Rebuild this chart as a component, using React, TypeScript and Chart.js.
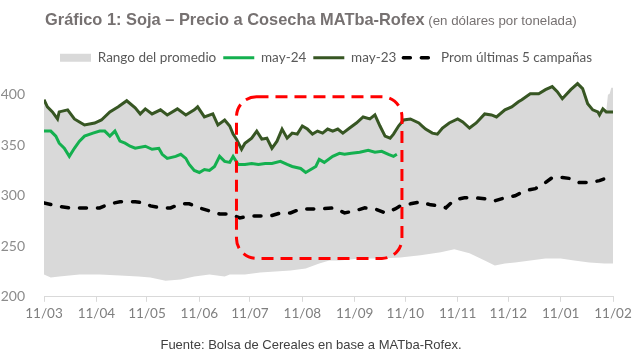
import React, { useEffect, useRef } from 'react';
import { Chart, registerables } from 'chart.js';

Chart.register(...registerables);

// X axis: days since 11/03, monthly ticks
const monthTickDays = [0, 31, 61, 92, 122, 153, 184, 214, 245, 275, 306, 337];
const monthTickLabels = ['11/03', '11/04', '11/05', '11/06', '11/07', '11/08', '11/09', '11/10', '11/11', '11/12', '11/01', '11/02'];
const yTickValues = [200, 250, 300, 350, 400];

// may-23 (dark green)
const may23Days = [0, 2, 5, 8, 9, 14, 18, 21, 24, 30, 34, 39, 44, 49, 54, 57, 60, 64, 69, 73, 79, 84, 89, 91, 95, 100, 103, 107, 110, 112, 114, 117, 119, 123, 126, 129, 132, 135, 138, 141, 144, 147, 150, 153, 156, 159, 162, 165, 168, 171, 174, 177, 181, 185, 189, 193, 196, 199, 202, 205, 207, 210, 213, 217, 222, 224, 226, 230, 233, 236, 240, 245, 248, 252, 256, 261, 265, 268, 273, 277, 281, 283, 288, 293, 297, 301, 304, 307, 312, 316, 319, 322, 325, 328, 329, 331, 333, 337];
const may23Values = [395, 388, 383, 376, 383, 385, 376, 373, 370, 372, 375, 383, 388, 394, 387, 381, 386, 381, 385, 380, 386, 380, 385, 388, 378, 381, 370, 375, 369, 361, 356, 346, 352, 357, 364, 356, 357, 347, 354, 366, 357, 362, 361, 369, 366, 361, 364, 362, 366, 364, 366, 362, 367, 372, 378, 376, 380, 369, 359, 357, 361, 369, 375, 376, 372, 369, 366, 362, 361, 367, 372, 376, 373, 367, 372, 381, 380, 378, 385, 388, 393, 395, 401, 401, 405, 408, 403, 396, 405, 411, 406, 391, 385, 383, 380, 386, 383, 383];

// may-24 (green)
const may24Days = [0, 4, 7, 9, 12, 15, 18, 21, 24, 29, 33, 36, 39, 42, 45, 48, 51, 54, 60, 64, 68, 70, 73, 78, 81, 84, 86, 89, 92, 95, 98, 101, 104, 107, 110, 112, 115, 119, 123, 127, 131, 135, 140, 144, 147, 152, 155, 158, 161, 163, 166, 171, 175, 178, 182, 187, 192, 196, 200, 204, 207, 209];
const may24Values = [364, 364, 359, 352, 347, 339, 347, 354, 359, 362, 364, 364, 359, 364, 354, 352, 349, 347, 349, 346, 347, 341, 337, 339, 341, 337, 331, 325, 323, 326, 325, 329, 339, 334, 333, 339, 331, 331, 332, 331, 332, 332, 334, 331, 329, 327, 323, 326, 329, 336, 333, 339, 342, 341, 342, 343, 345, 343, 344, 341, 339, 341];

// Promedio últimas 5 campañas (black dashed)
const promDays = [0, 7, 15, 24, 33, 39, 45, 54, 60, 63, 69, 75, 81, 86, 92, 98, 104, 110, 116, 122, 128, 134, 140, 146, 152, 158, 163, 172, 178, 184, 190, 196, 202, 208, 211, 217, 223, 229, 235, 238, 243, 249, 255, 261, 267, 273, 279, 285, 291, 297, 301, 307, 312, 317, 323, 329, 334];
const promValues = [293, 290, 288, 288, 288, 292, 294, 294, 293, 290, 288, 288, 292, 292, 288, 285, 282, 282, 278, 280, 280, 280, 283, 283, 287, 287, 287, 288, 283, 285, 288, 287, 283, 287, 290, 292, 294, 291, 290, 288, 296, 298, 298, 297, 295, 298, 300, 305, 307, 313, 318, 318, 317, 313, 313, 315, 318];

// Rango del promedio (gray band): upper and lower limits
const rangeHighDays = [0, 2, 5, 8, 9, 14, 18, 21, 24, 30, 34, 39, 44, 49, 54, 57, 60, 64, 69, 73, 79, 84, 89, 91, 95, 100, 103, 107, 110, 112, 114, 117, 119, 123, 126, 129, 132, 135, 138, 141, 144, 147, 150, 153, 156, 159, 162, 165, 168, 171, 174, 177, 181, 185, 189, 193, 196, 199, 202, 205, 207, 210, 213, 217, 222, 224, 226, 230, 233, 236, 240, 245, 248, 252, 256, 261, 265, 268, 273, 277, 281, 283, 288, 293, 297, 301, 304, 307, 312, 316, 319, 322, 325, 328, 329, 331, 333, 334, 335, 336, 337];
const rangeHighValues = [396, 389, 384, 377, 384, 386, 377, 374, 371, 373, 376, 384, 389, 395, 388, 382, 387, 382, 386, 381, 387, 381, 386, 389, 379, 382, 371, 376, 370, 362, 357, 347, 353, 358, 365, 357, 358, 348, 355, 367, 358, 363, 362, 370, 367, 362, 365, 363, 367, 365, 367, 363, 368, 373, 379, 377, 381, 370, 360, 358, 362, 370, 376, 377, 373, 370, 367, 363, 362, 368, 373, 377, 374, 368, 373, 382, 381, 379, 386, 389, 394, 396, 402, 402, 406, 409, 404, 397, 406, 412, 407, 392, 386, 384, 381, 387, 384, 400, 401, 407, 407];
const rangeLowDays = [0, 4, 9, 21, 33, 45, 56, 63, 72, 81, 89, 98, 107, 110, 119, 128, 137, 146, 155, 163, 169, 175, 187, 199, 211, 223, 235, 243, 252, 261, 267, 273, 279, 288, 297, 306, 314, 323, 332, 337];
const rangeLowValues = [222, 219, 220, 222, 222, 221, 220, 219, 216, 217, 220, 222, 220, 222, 222, 224, 225, 226, 228, 233, 236, 236, 238, 238, 239, 241, 244, 247, 243, 236, 231, 233, 234, 236, 238, 238, 236, 234, 233, 233];

// Highlight (red dashed rounded box), in data units
const highlightDayStart = 114;
const highlightDayEnd = 212;
const highlightValueTop = 398;
const highlightValueBottom = 238;

const LEGEND_CENTER_X = 326;

const toPoints = (xs: number[], ys: number[]) => xs.map((x, i) => ({ x, y: ys[i] }));

const highlightPlugin = {
  id: 'highlightBox',
  afterUpdate(chart: any) {
    const lg = chart.legend;
    if (lg) {
      const shift = LEGEND_CENTER_X - (lg.left + lg.right) / 2;
      lg.left += shift;
      lg.right += shift;
    }
  },
  afterDatasetsDraw(chart: any) {
    const { ctx, scales } = chart;
    const l = scales.x.getPixelForValue(highlightDayStart);
    const r = scales.x.getPixelForValue(highlightDayEnd);
    const t = scales.y.getPixelForValue(highlightValueTop);
    const b = scales.y.getPixelForValue(highlightValueBottom);
    const rad = 20;
    ctx.save();
    ctx.strokeStyle = '#ff0000';
    ctx.lineWidth = 3;
    ctx.setLineDash([12, 7]);
    ctx.beginPath();
    ctx.moveTo(l + rad, t);
    ctx.lineTo(r - rad, t);
    ctx.arcTo(r, t, r, t + rad, rad);
    ctx.lineTo(r, b - rad);
    ctx.arcTo(r, b, r - rad, b, rad);
    ctx.lineTo(l + rad, b);
    ctx.arcTo(l, b, l, b - rad, rad);
    ctx.lineTo(l, t + rad);
    ctx.arcTo(l, t, l + rad, t, rad);
    ctx.closePath();
    ctx.stroke();
    ctx.restore();
  },
};

export default function App() {
  const canvasRef = useRef<HTMLCanvasElement | null>(null);

  useEffect(() => {
    document.body.style.margin = '0';
    const canvas = canvasRef.current;
    if (!canvas) return;
    const chart = new Chart(canvas, {
      type: 'line',
      data: {
        datasets: [
          {
            label: 'Rango del promedio',
            data: toPoints(rangeHighDays, rangeHighValues),
            borderWidth: 0,
            borderColor: 'rgba(0,0,0,0)',
            backgroundColor: '#d9d9d9',
            pointRadius: 0,
            fill: 1,
          },
          {
            label: 'rangeLow',
            data: toPoints(rangeLowDays, rangeLowValues),
            borderWidth: 0,
            borderColor: 'rgba(0,0,0,0)',
            pointRadius: 0,
            fill: false,
          },
          {
            label: 'may-24',
            data: toPoints(may24Days, may24Values),
            borderColor: '#14b04f',
            borderWidth: 3,
            pointRadius: 0,
            fill: false,
          },
          {
            label: 'may-23',
            data: toPoints(may23Days, may23Values),
            borderColor: '#375623',
            borderWidth: 3,
            pointRadius: 0,
            fill: false,
          },
          {
            label: 'Prom últimas 5 campañas',
            data: toPoints(promDays, promValues),
            borderColor: '#000000',
            borderWidth: 3.5,
            borderDash: [7, 11],
            borderCapStyle: 'round',
            pointRadius: 0,
            fill: false,
          },
        ] as any,
      },
      options: {
        responsive: false,
        animation: false,
        layout: { padding: { top: 44, right: 27, bottom: 38, left: 0 } },
        elements: { line: { tension: 0 } },
        plugins: {
          filler: { drawTime: 'beforeDatasetsDraw' } as any,
          tooltip: { enabled: false },
          title: { display: false },
          legend: {
            display: true,
            position: 'top',
            labels: {
              usePointStyle: true,
              pointStyleWidth: 31,
              boxHeight: 8,
              padding: 7,
              color: '#595959',
              font: { family: 'Lato', size: 13.5 },
              filter: (item: any) => item.datasetIndex !== 1,
              generateLabels: (chart: any) => {
                const items = Chart.defaults.plugins.legend.labels.generateLabels(chart);
                return items.map((it: any) => {
                  const ds = chart.data.datasets[it.datasetIndex];
                  if (it.datasetIndex === 0) {
                    return { ...it, pointStyle: 'rect', fillStyle: '#d9d9d9', strokeStyle: '#d9d9d9', lineWidth: 0, lineDash: [] };
                  }
                  return {
                    ...it,
                    pointStyle: 'line',
                    strokeStyle: ds.borderColor,
                    fillStyle: ds.borderColor,
                    lineWidth: ds.borderWidth,
                    lineDash: ds.borderDash || [],
                    lineCap: ds.borderCapStyle || 'butt',
                  };
                });
              },
            },
          },
        },
        scales: {
          x: {
            type: 'linear',
            min: 0,
            max: 337,
            afterBuildTicks: (scale: any) => {
              scale.ticks = monthTickDays.map((v) => ({ value: v }));
            },
            ticks: {
              autoSkip: false,
              maxRotation: 0,
              padding: 4,
              color: '#7f7f7f',
              font: { family: 'Lato', size: 13.5 },
              callback: (_v: any, i: number) => monthTickLabels[i],
            },
            grid: { drawOnChartArea: false, display: true, tickLength: 5, color: '#d9d9d9' },
            border: { display: true, color: '#d9d9d9' },
          },
          y: {
            type: 'linear',
            min: 200,
            max: 420,
            afterBuildTicks: (scale: any) => {
              scale.ticks = yTickValues.map((v) => ({ value: v }));
            },
            afterFit: (scale: any) => {
              scale.width = 44;
            },
            ticks: {
              padding: 11,
              color: '#8c8c8c',
              font: { family: 'Lato', size: 14 },
            },
            grid: { display: false },
            border: { display: false },
          },
        },
      } as any,
      plugins: [highlightPlugin],
    });
    return () => chart.destroy();
  }, []);

  return (
    <div style={{ position: 'relative', width: 640, height: 364, background: '#ffffff', overflow: 'hidden' }}>
      <canvas ref={canvasRef} width={640} height={364} style={{ position: 'absolute', left: 0, top: 0 }} />
      <div
        style={{
          position: 'absolute',
          left: 45,
          top: 10,
          whiteSpace: 'nowrap',
          color: '#767171',
          fontFamily: '"Liberation Sans", Arial, sans-serif',
        }}
      >
        <span style={{ fontWeight: 'bold', fontSize: 16.4 }}>Gráfico 1: Soja – Precio a Cosecha MATba-Rofex</span>
        <span style={{ fontSize: 13.3 }}> (en dólares por tonelada)</span>
      </div>
      <div
        style={{
          position: 'absolute',
          left: 0,
          width: 622,
          top: 337,
          textAlign: 'center',
          whiteSpace: 'nowrap',
          color: '#404040',
          fontSize: 13,
          fontFamily: '"Liberation Sans", Arial, sans-serif',
        }}
      >
        Fuente: Bolsa de Cereales en base a MATba-Rofex.
      </div>
    </div>
  );
}
